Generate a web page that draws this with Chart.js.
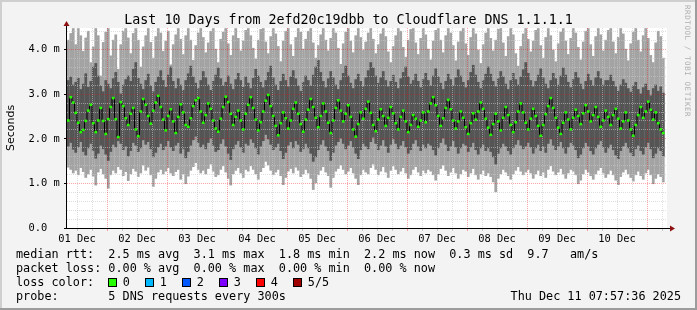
<!DOCTYPE html>
<html>
<head>
<meta charset="utf-8">
<script src="https://cdn.jsdelivr.net/npm/chart.js@4.4.1/dist/chart.umd.min.js"></script>
<style>
  html, body { margin: 0; padding: 0; background: #f3f3f3; }
  canvas { display: block; }
</style>
</head>
<body>
<canvas id="c" width="697" height="310"></canvas>
<script>
// ---- chart data ----
const title = 'Last 10 Days from 2efd20c19dbb to Cloudflare DNS 1.1.1.1';
const dayLabels = ['01 Dec', '02 Dec', '03 Dec', '04 Dec', '05 Dec', '06 Dec', '07 Dec', '08 Dec', '09 Dec', '10 Dec'];
const yTickValues = [0, 1, 2, 3, 4];
const yTickLabels = ['0.0', '1.0 m', '2.0 m', '3.0 m', '4.0 m'];
const hoursShown = 240;   // one bar per hour, first bar 01 Dec 08:00
const firstHour = 8;
const yMax = 4.464;       // ms

// median rtt (ms), hourly
const medianRtt = [
  2.40, 2.92, 2.80, 2.57, 2.35, 2.14, 2.19, 2.39, 2.62, 2.75, 2.34, 2.14, 2.40, 2.68, 2.39, 2.10, 2.43, 2.70, 2.90, 2.43, 2.03, 2.81, 2.72, 2.45,
  2.30, 2.55, 2.68, 2.20, 2.05, 2.60, 2.88, 2.75, 2.50, 2.33, 2.62, 2.80, 2.95, 2.70, 2.42, 2.18, 2.50, 2.65, 2.38, 2.12, 2.48, 2.76, 2.58, 2.30,
  2.26, 2.45, 2.72, 2.85, 2.90, 2.60, 2.35, 2.52, 2.78, 2.66, 2.40, 2.22, 2.15, 2.44, 2.70, 2.93, 2.81, 2.55, 2.30, 2.48, 2.62, 2.40, 2.20, 2.55,
  2.75, 2.92, 2.68, 2.42, 2.18, 2.36, 2.60, 2.84, 2.97, 2.72, 2.50, 2.28, 2.07, 2.34, 2.58, 2.45, 2.22, 2.40, 2.66, 2.80, 2.55, 2.32, 2.15, 2.42,
  2.64, 2.88, 2.70, 2.46, 2.25, 2.50, 2.78, 2.60, 2.35, 2.12, 2.40, 2.68, 2.85, 2.62, 2.38, 2.55, 2.74, 2.48, 2.20, 2.04, 2.32, 2.58, 2.44, 2.66,
  2.82, 2.57, 2.30, 2.16, 2.42, 2.65, 2.50, 2.28, 2.46, 2.70, 2.56, 2.34, 2.20, 2.48, 2.62, 2.38, 2.14, 2.30, 2.52, 2.44, 2.26, 2.40, 2.58, 2.36,
  2.60, 2.78, 2.92, 2.74, 2.50, 2.28, 2.45, 2.68, 2.86, 2.65, 2.40, 2.22, 2.38, 2.60, 2.46, 2.25, 2.10, 2.34, 2.56, 2.42, 2.60, 2.80, 2.66, 2.44,
  2.24, 2.08, 2.32, 2.55, 2.38, 2.18, 2.46, 2.70, 2.52, 2.30, 2.14, 2.36, 2.60, 2.78, 2.58, 2.35, 2.20, 2.44, 2.66, 2.50, 2.28, 2.06, 2.30, 2.54,
  2.72, 2.90, 2.68, 2.46, 2.24, 2.10, 2.35, 2.58, 2.42, 2.20, 2.46, 2.64, 2.50, 2.32, 2.56, 2.74, 2.60, 2.38, 2.52, 2.70, 2.48, 2.26, 2.40, 2.62,
  2.48, 2.30, 2.52, 2.66, 2.44, 2.22, 2.38, 2.58, 2.40, 2.20, 2.06, 2.30, 2.52, 2.70, 2.46, 2.60, 2.82, 2.64, 2.42, 2.58, 2.34, 2.20, 2.12
];

// smoke: lowest ping (ms)
const smokeMin = [
  1.35, 1.30, 1.22, 1.28, 1.18, 1.34, 1.25, 1.12, 1.20, 1.30, 1.15, 0.95, 1.24, 1.32, 1.20, 1.10, 0.88, 1.18, 1.28, 1.22, 1.36, 1.30, 1.16, 1.25,
  1.05, 1.20, 1.32, 1.26, 1.14, 1.22, 1.40, 1.28, 1.35, 1.18, 0.92, 1.10, 1.24, 1.30, 1.20, 1.26, 1.34, 1.22, 1.16, 1.25, 1.30, 1.08, 1.20, 0.98,
  1.15, 1.28, 1.36, 1.45, 1.30, 1.22, 1.28, 1.20, 1.32, 1.42, 1.26, 1.14, 1.18, 1.30, 1.38, 1.24, 1.10, 0.95, 1.20, 1.28, 1.34, 1.22, 1.12, 1.30,
  1.26, 1.38, 1.30, 1.20, 1.08, 1.25, 1.34, 1.48, 1.40, 1.28, 1.18, 1.24, 1.30, 1.16, 0.96, 1.12, 1.26, 1.32, 1.22, 1.35, 1.28, 1.14, 1.20, 1.30,
  1.22, 1.10, 0.85, 1.00, 1.18, 1.28, 1.36, 1.24, 1.16, 0.90, 1.12, 1.26, 1.32, 1.40, 1.30, 1.20, 1.26, 1.34, 1.22, 1.10, 0.96, 1.18, 1.30, 1.24,
  1.20, 1.34, 1.42, 1.30, 1.18, 1.26, 1.36, 1.24, 1.12, 1.28, 1.38, 1.30, 1.20, 1.26, 1.34, 1.22, 1.10, 1.18, 1.30, 1.36, 1.24, 1.16, 1.28, 1.22,
  1.30, 1.26, 1.18, 1.06, 1.20, 1.32, 1.40, 1.28, 1.16, 1.24, 1.34, 1.22, 1.10, 1.20, 1.30, 1.26, 1.14, 1.22, 1.32, 1.18, 1.08, 1.20, 1.28, 1.16,
  1.22, 1.14, 1.02, 0.80, 1.10, 1.20, 1.30, 1.24, 1.16, 1.08, 1.20, 1.28, 1.36, 1.26, 1.18, 1.24, 1.30, 1.22, 1.10, 1.20, 1.28, 1.16, 1.24, 1.12,
  1.30, 1.38, 1.26, 1.18, 1.24, 1.32, 1.20, 1.10, 1.22, 1.30, 1.26, 1.18, 0.98, 1.06, 1.20, 1.30, 1.24, 1.16, 1.08, 1.20, 1.28, 1.34, 1.22, 1.12,
  1.20, 1.28, 1.18, 1.06, 0.96, 1.14, 1.24, 1.30, 1.20, 1.12, 1.04, 1.18, 1.26, 1.16, 1.08, 1.22, 1.30, 1.18, 0.98, 1.10, 1.20, 1.14, 1.02
];

// smoke: second ping (ms)
const smokeLow = [
  1.82, 1.90, 1.75, 1.68, 1.80, 1.92, 1.70, 1.62, 1.78, 1.88, 1.72, 1.55, 1.66, 1.84, 1.76, 1.64, 1.50, 1.70, 1.86, 1.80, 1.94, 1.88, 1.74, 1.82,
  1.60, 1.72, 1.90, 1.84, 1.70, 1.78, 1.96, 1.86, 1.92, 1.76, 1.58, 1.68, 1.80, 1.88, 1.74, 1.82, 1.94, 1.80, 1.72, 1.84, 1.90, 1.66, 1.76, 1.56,
  1.70, 1.84, 1.96, 2.04, 1.90, 1.80, 1.86, 1.76, 1.90, 2.00, 1.84, 1.70, 1.74, 1.88, 1.98, 1.82, 1.66, 1.52, 1.76, 1.86, 1.94, 1.80, 1.68, 1.88,
  1.84, 1.98, 1.90, 1.78, 1.64, 1.82, 1.94, 2.08, 1.98, 1.86, 1.74, 1.80, 1.88, 1.72, 1.54, 1.68, 1.84, 1.92, 1.78, 1.94, 1.86, 1.70, 1.76, 1.88,
  1.78, 1.66, 1.48, 1.58, 1.74, 1.86, 1.96, 1.82, 1.72, 1.50, 1.68, 1.84, 1.92, 2.00, 1.88, 1.76, 1.84, 1.94, 1.80, 1.66, 1.54, 1.74, 1.88, 1.82,
  1.76, 1.92, 2.02, 1.88, 1.74, 1.84, 1.96, 1.82, 1.68, 1.86, 1.98, 1.88, 1.76, 1.84, 1.94, 1.80, 1.66, 1.74, 1.88, 1.96, 1.82, 1.72, 1.86, 1.78,
  1.88, 1.84, 1.74, 1.62, 1.78, 1.90, 2.00, 1.86, 1.72, 1.82, 1.94, 1.80, 1.66, 1.78, 1.88, 1.84, 1.70, 1.80, 1.90, 1.74, 1.64, 1.78, 1.86, 1.72,
  1.78, 1.70, 1.58, 1.42, 1.66, 1.78, 1.88, 1.82, 1.72, 1.64, 1.78, 1.86, 1.96, 1.84, 1.76, 1.82, 1.90, 1.80, 1.66, 1.78, 1.86, 1.72, 1.82, 1.68,
  1.88, 1.98, 1.84, 1.74, 1.82, 1.92, 1.78, 1.66, 1.80, 1.90, 1.84, 1.74, 1.56, 1.64, 1.78, 1.90, 1.82, 1.72, 1.64, 1.78, 1.86, 1.94, 1.80, 1.68,
  1.78, 1.86, 1.74, 1.62, 1.54, 1.72, 1.82, 1.90, 1.78, 1.68, 1.60, 1.76, 1.84, 1.72, 1.64, 1.80, 1.90, 1.76, 1.56, 1.66, 1.78, 1.72, 1.60
];

// smoke: fourth ping (ms)
const smokeHigh = [
  3.30, 3.38, 3.20, 3.26, 3.35, 3.10, 3.22, 3.45, 3.15, 3.28, 3.60, 3.68, 3.40, 3.18, 3.05, 3.30, 3.22, 3.12, 3.34, 3.48, 3.26, 3.00, 3.20, 3.32,
  3.40, 3.28, 3.55, 3.70, 3.35, 3.22, 3.10, 3.30, 3.44, 3.18, 3.05, 3.26, 3.38, 3.52, 3.30, 3.15, 3.42, 3.60, 3.28, 3.12, 3.34, 3.20, 3.08, 3.30,
  3.45, 3.62, 3.38, 3.24, 3.12, 3.30, 3.50, 3.36, 3.20, 3.08, 3.28, 3.42, 3.58, 3.34, 3.18, 3.26, 3.40, 3.22, 3.10, 3.32, 3.46, 3.30, 3.15, 3.38,
  3.24, 3.12, 3.35, 3.55, 3.40, 3.26, 3.14, 3.30, 3.48, 3.62, 3.36, 3.20, 3.08, 3.28, 3.44, 3.30, 3.16, 3.38, 3.52, 3.34, 3.18, 3.06, 3.26, 3.40,
  3.30, 3.18, 3.42, 3.60, 3.75, 3.48, 3.28, 3.14, 3.34, 3.50, 3.36, 3.20, 3.10, 3.30, 3.46, 3.62, 3.40, 3.24, 3.12, 3.32, 3.44, 3.28, 3.16, 3.36,
  3.52, 3.70, 3.58, 3.40, 3.24, 3.36, 3.50, 3.30, 3.16, 3.28, 3.42, 3.26, 3.12, 3.34, 3.48, 3.60, 3.38, 3.22, 3.30, 3.44, 3.28, 3.14, 3.32, 3.46,
  3.30, 3.18, 3.40, 3.56, 3.38, 3.24, 3.10, 3.28, 3.44, 3.32, 3.18, 3.36, 3.54, 3.40, 3.26, 3.14, 3.30, 3.48, 3.64, 3.42, 3.26, 3.12, 3.30, 3.44,
  3.60, 3.44, 3.28, 3.16, 3.34, 3.50, 3.38, 3.22, 3.10, 3.30, 3.46, 3.32, 3.20, 3.38, 3.54, 3.70, 3.46, 3.30, 3.16, 3.28, 3.42, 3.56, 3.36, 3.22,
  3.12, 3.30, 3.46, 3.34, 3.20, 3.40, 3.58, 3.42, 3.26, 3.14, 3.32, 3.48, 3.36, 3.22, 3.10, 3.28, 3.44, 3.30, 3.18, 3.36, 3.50, 3.34, 3.20, 3.30,
  3.30, 3.42, 3.28, 3.16, 3.06, 3.20, 3.32, 3.24, 3.12, 3.04, 3.18, 3.26, 3.10, 3.00, 3.14, 3.22, 3.08, 2.96, 3.12, 3.20, 3.06, 3.16, 3.02
];

// smoke: highest ping (ms)
const smokeMax = [
  4.20, 4.35, 4.46, 4.10, 4.46, 4.30, 3.95, 4.25, 4.40, 3.70, 4.05, 4.46, 4.30, 3.40, 4.15, 4.38, 4.46, 3.85, 4.20, 4.32, 3.55, 4.10, 4.40, 4.46,
  4.25, 3.90, 4.35, 4.46, 4.20, 3.60, 4.05, 4.30, 4.46, 4.15, 3.80, 4.28, 4.46, 4.36, 3.95, 4.18, 4.40, 3.65, 4.10, 4.32, 4.46, 4.22, 3.88, 4.30,
  4.46, 4.20, 3.75, 4.08, 4.36, 4.46, 4.26, 3.92, 4.14, 4.40, 4.46, 4.00, 3.70, 4.22, 4.38, 4.46, 4.12, 3.86, 4.30, 4.46, 4.24, 3.96, 4.18, 4.42,
  4.46, 4.30, 4.02, 3.78, 4.20, 4.44, 4.46, 4.16, 3.90, 4.28, 4.46, 4.34, 4.06, 3.72, 4.18, 4.40, 4.46, 4.10, 3.84, 4.26, 4.46, 4.38, 4.00, 4.22,
  4.40, 4.46, 4.14, 3.80, 4.08, 4.32, 4.46, 4.20, 3.96, 4.24, 4.46, 4.36, 4.02, 3.66, 4.12, 4.38, 4.46, 4.18, 3.92, 4.30, 4.46, 4.26, 3.98, 4.16,
  4.36, 4.46, 4.22, 3.90, 4.10, 4.34, 4.46, 4.28, 3.94, 3.70, 4.06, 4.30, 4.46, 4.40, 4.04, 3.82, 4.20, 4.44, 4.46, 4.14, 3.88, 4.24, 4.46, 4.32,
  4.00, 3.76, 4.18, 4.42, 4.46, 4.20, 3.92, 4.30, 4.46, 4.36, 4.08, 3.74, 4.16, 4.40, 4.46, 4.12, 3.86, 4.26, 4.46, 4.34, 3.98, 3.68, 4.10, 4.36,
  4.46, 4.24, 3.96, 4.20, 4.44, 4.46, 4.14, 3.84, 4.28, 4.46, 4.32, 3.90, 3.62, 4.06, 4.34, 4.46, 4.22, 3.94, 4.18, 4.42, 4.46, 4.08, 3.80, 4.26,
  4.46, 4.30, 3.98, 3.72, 4.12, 4.38, 4.46, 4.18, 3.88, 4.24, 4.46, 4.36, 4.04, 3.76, 4.16, 4.40, 4.46, 4.10, 3.84, 4.28, 4.46, 4.32, 3.96, 4.20,
  4.42, 4.46, 4.16, 3.90, 4.26, 4.46, 4.34, 4.00, 3.74, 4.12, 4.38, 4.46, 4.20, 3.94, 4.30, 4.46, 4.24, 3.86, 3.70, 4.14, 4.40, 4.28, 3.80
];

const legendLines = [
  'median rtt:  2.5 ms avg  3.1 ms max  1.8 ms min  2.2 ms now  0.3 ms sd  9.7   am/s',
  'packet loss: 0.00 % avg  0.00 % max  0.00 % min  0.00 % now',
  'loss color:',
  'probe:       5 DNS requests every 300s'
];
const lossLabels = ['0', '1', '2', '3', '4', '5/5'];
const lossColors = ['#26ff00', '#00b8ff', '#0059ff', '#7e00ff', '#ff0000', '#a00000'];
const stampText = 'Thu Dec 11 07:57:36 2025';
const creditText = 'RRDTOOL / TOBI OETIKER';

const MONO = '"DejaVu Sans Mono", monospace';

// ---- drawing helpers ----
function drawGrid(chart) {
  const { ctx, chartArea: a, scales: { x, y } } = chart;
  const hx = h => x.getPixelForValue(h - 0.5);
  ctx.save();
  ctx.lineWidth = 1;
  ctx.setLineDash([1, 1]);
  for (let k = 1; k * 0.2 < yMax; k++) {
    const py = Math.round(y.getPixelForValue(k * 0.2)) + 0.5;
    ctx.strokeStyle = k % 5 === 0 ? 'rgba(255,0,0,0.35)' : 'rgba(200,200,200,0.6)';
    ctx.beginPath(); ctx.moveTo(a.left, py); ctx.lineTo(a.right, py); ctx.stroke();
  }
  for (let h = 4; h < hoursShown; h += 6) {
    const px = Math.round(hx(h)) + 0.5;
    ctx.strokeStyle = (h + firstHour) % 24 === 0 ? 'rgba(255,0,0,0.35)' : 'rgba(200,200,200,0.6)';
    ctx.beginPath(); ctx.moveTo(px, a.top); ctx.lineTo(px, a.bottom); ctx.stroke();
  }
  ctx.restore();
}

const rrdPlugin = {
  id: 'rrd',
  beforeDraw(chart) {
    const { ctx, chartArea: a, width, height } = chart;
    ctx.save();
    ctx.fillStyle = '#f3f3f3';
    ctx.fillRect(0, 0, width, height);
    ctx.fillStyle = '#cfcfcf';
    ctx.fillRect(0, 0, width, 2);
    ctx.fillRect(0, 0, 2, height);
    ctx.fillStyle = '#9c9c9c';
    ctx.fillRect(0, height - 2, width, 2);
    ctx.fillRect(width - 2, 0, 2, height);
    ctx.fillStyle = '#ffffff';
    ctx.fillRect(a.left, a.top, a.right - a.left, a.bottom - a.top);
    ctx.restore();
  },
  afterDatasetDraw(chart, args) {
    if (args.index === 1) drawGrid(chart);
  },
  afterDraw(chart) {
    const { ctx, chartArea: a, scales: { x, y } } = chart;
    const hx = h => x.getPixelForValue(h - 0.5);
    ctx.save();

    // ticks outside the plot
    for (let h = 4; h < hoursShown; h += 6) {
      const px = Math.round(hx(h));
      ctx.fillStyle = (h + firstHour) % 24 === 0 ? '#ff9a9a' : '#c8c8c8';
      ctx.fillRect(px, a.bottom + 1, 1, 2);
    }
    yTickValues.forEach(v => {
      const py = Math.round(y.getPixelForValue(v));
      ctx.fillStyle = '#000';
      ctx.fillRect(a.left - 3, py, 2, 1);
    });

    // axes
    ctx.fillStyle = '#000';
    ctx.fillRect(a.left - 1, a.bottom, a.right - a.left + 5, 1);
    ctx.fillRect(a.left - 1, a.top - 3, 1, a.bottom - a.top + 4);
    ctx.fillStyle = '#8f1010';
    ctx.beginPath();
    ctx.moveTo(a.left - 0.5, a.top - 7); ctx.lineTo(a.left + 2.5, a.top - 2); ctx.lineTo(a.left - 3.5, a.top - 2);
    ctx.closePath(); ctx.fill();
    ctx.beginPath();
    ctx.moveTo(a.right + 8, a.bottom + 0.5); ctx.lineTo(a.right + 3, a.bottom - 2.5); ctx.lineTo(a.right + 3, a.bottom + 3.5);
    ctx.closePath(); ctx.fill();

    // tick labels
    ctx.fillStyle = '#000';
    ctx.font = '10.4px ' + MONO;
    ctx.textAlign = 'left';
    ctx.textBaseline = 'middle';
    yTickValues.forEach((v, i) => {
      ctx.fillText(yTickLabels[i], 28.5, y.getPixelForValue(v) + 0.5);
    });
    ctx.textAlign = 'center';
    ctx.textBaseline = 'alphabetic';
    dayLabels.forEach((d, i) => {
      ctx.fillText(d, hx(24 * i + 12 - firstHour), 241.5);
    });

    // title
    ctx.font = '13.3px ' + MONO;
    ctx.fillText(title, chart.width / 2, 24);

    // y axis title
    ctx.save();
    ctx.translate(14, (a.top + a.bottom) / 2);
    ctx.rotate(-Math.PI / 2);
    ctx.font = '11px "DejaVu Sans", sans-serif';
    ctx.fillText('Seconds', 0, 0);
    ctx.restore();

    // credit on the right
    ctx.save();
    ctx.translate(685, 5);
    ctx.rotate(Math.PI / 2);
    ctx.font = '7.5px ' + MONO;
    ctx.fillStyle = '#b0b0b0';
    ctx.textAlign = 'left';
    for (let i = 0; i < creditText.length; i++) {
      ctx.fillText(creditText[i], i * 5.1, 0);
    }
    ctx.restore();

    // legend
    ctx.font = '11.8px ' + MONO;
    ctx.textAlign = 'left';
    ctx.fillStyle = '#000';
    const base = [258, 272, 286, 300];
    legendLines.forEach((t, i) => ctx.fillText(t, 16, base[i]));
    lossLabels.forEach((l, i) => {
      const bx = 108 + 37 * i;
      ctx.fillStyle = lossColors[i];
      ctx.fillRect(bx, 278, 9, 9);
      ctx.strokeStyle = '#000';
      ctx.lineWidth = 1;
      ctx.strokeRect(bx + 0.5, 278.5, 8, 8);
      ctx.fillStyle = '#000';
      ctx.fillText(l, bx + 14.8, base[2]);
    });
    ctx.textAlign = 'right';
    ctx.fillText(stampText, 681, base[3]);
    ctx.restore();
  }
};

// ---- chart ----
const hourSlots = Array.from({ length: hoursShown }, (_, i) => i);
const barOpts = { grouped: false, categoryPercentage: 1, barPercentage: 1.1, borderWidth: 0 };

new Chart(document.getElementById('c'), {
  type: 'bar',
  data: {
    labels: hourSlots,
    datasets: [
      { ...barOpts, label: 'smoke outer', data: smokeMin.map((v, i) => [v, smokeMax[i]]), backgroundColor: '#a3a3a3', order: 4 },
      { ...barOpts, label: 'smoke inner', data: smokeLow.map((v, i) => [v, smokeHigh[i]]), backgroundColor: '#555555', order: 3 },
      { type: 'line', label: 'median steps', data: medianRtt, borderColor: '#000000', borderWidth: 1, pointRadius: 0, stepped: 'middle', order: 2 },
      { ...barOpts, label: 'median', data: medianRtt.map(m => [m - 0.028, m + 0.028]), backgroundColor: '#26ff00', order: 1 }
    ]
  },
  options: {
    responsive: false,
    animation: false,
    devicePixelRatio: 1,
    layout: { padding: { left: 67, right: 30, top: 28, bottom: 82 } },
    scales: {
      x: { type: 'category', display: false },
      y: { type: 'linear', display: false, min: 0, max: yMax }
    },
    plugins: { legend: { display: false }, tooltip: { enabled: false } }
  },
  plugins: [rrdPlugin]
});
</script>
</body>
</html>
